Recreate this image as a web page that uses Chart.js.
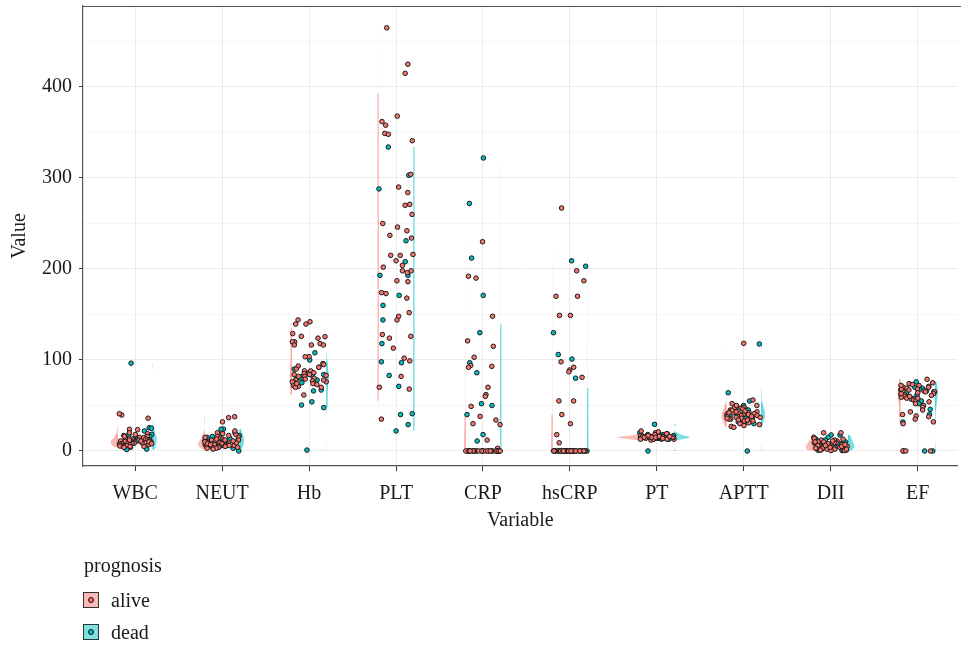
<!DOCTYPE html>
<html><head><meta charset="utf-8">
<script src="https://cdn.jsdelivr.net/npm/chart.js@4.4.1/dist/chart.umd.min.js"></script>
<style>
html,body{margin:0;padding:0;background:#fff;}
#wrap{position:relative;width:961px;height:646px;overflow:hidden;font-family:'Liberation Serif',serif;color:#1a1a1a;}
canvas{position:absolute;left:0;top:0;}
.lt{position:absolute;font-size:20px;line-height:24px;white-space:nowrap;}
.key{position:absolute;width:14px;height:14px;border:1px solid #333;}
.dot{position:absolute;left:4px;top:4px;width:4px;height:4px;border-radius:50%;border:1px solid #111;}
</style></head><body>
<div id="wrap">
<canvas id="c" width="961" height="646"></canvas>
<div class="lt" style="left:84px;top:553px;">prognosis</div>
<div class="key" style="left:83px;top:592px;background:#FBBAB6"><div class="dot" style="background:#F8766D"></div></div>
<div class="lt" style="left:111px;top:588px;">alive</div>
<div class="key" style="left:83px;top:624px;background:#80DFE1"><div class="dot" style="background:#00BFC4"></div></div>
<div class="lt" style="left:111px;top:620px;">dead</div>
</div>
<script>
const categories = ['WBC','NEUT','Hb','PLT','CRP','hsCRP','PT','APTT','DII','EF'];
const yTickValues = [0,100,200,300,400];
const groups = ['alive','dead'];

const alive_WBC = [36,39.5,41,23.4,23.8,20,19,17,16,15,14.5,14,13,13,12.5,12,12,11.5,11,11,10.5,10,10,9.5,9,9,8.5,8,8,7.5,7,7,6.5,6,6,5.5,5,5,4.5,4,12,10,8,16,18,9,11];
const dead_WBC  = [96.5,25.6,25,18.3,18,16,15,14,13,12,11,10,9,8,6,4,2,1.5,22];
const alive_NEUT = [32,36.6,37.7,20,18,16,15,14,13,12,12,11,11,10,10,9,9,8,8,8,7,7,7,6,6,6,5,5,5,4,4,3,3,12,10,9,15,17,6,8,11,13,19,4,7,2,22];
const dead_NEUT  = [24,24,18,16,14,13,12,11,10,9,8,7,6,5,0,20,17,15,3];
const alive_Hb = [144,142,139.5,139.5,129,126,125.6,124,120,118,120,116.5,116.5,116.5,103.6,103.6,96,93.4,92,88,86,85,84,83,82,80,79,78,77,76,75,74,73,72,71,70,70,78,76,74,61.5,88,86,84,82,90,95];
const dead_Hb  = [108,100,92,90,85,84,83,82,80,79,78,76,75,67,66,54,50.5,47.6,1];
const alive_PLT = [465,425,415,368,362,358,349,348,341,304,290,284,271,270,260,250,246,242,237,234,216,215,215,209,204,202,198,198,196,187,186,174,173,168,152,148,144,128,126,124,113,102,99,82,70,68,35];
const dead_PLT  = [334,303,288,231,208,193,193,171,160,144,118,98,97,83,71,41,40,29,22];
const alive_CRP = [230,192,190,148,121,115,103,94,93,92,70,62,60,49,38,34,30,29,12,3,0,0,0,0,0,0,0,0,0,0,0,0,0,0,0,0,0,0,0,0,0,0,0,0,0,0,0];
const dead_CRP  = [322,272,212,171,130,97,86,52,50,40,18,11,0,0,0,0,0,0,0];
const alive_hsCRP = [267,198,187,170,170,149,149,98,92,89,87,81,55,55,40,30,18,9,0,0,0,0,0,0,0,0,0,0,0,0,0,0,0,0,0,0,0,0,0,0,0,0,0,0,0,0,0];
const dead_hsCRP  = [209,203,130,106,101,80,0,0,0,0,0,0,0,0,0,0,0,0,0];
const alive_PT = [14,15,16,15,14,13,17,18,15,16,14,15,13,16,17,15,14,16,15,12,19,20,22,14,15,16,13,15,14,16,17,15,18,14,13,15,16,15,14,17,16,15,21,13,15,14,16];
const dead_PT  = [29.3,0,16,14,15,18,13,17,15,19,14,16,20,15,13,17,15,14,16];
const alive_APTT = [118.3,56,52,50,48,47,46,45,44,43,42,42,41,40,40,39,38,38,37,36,36,35,35,34,33,32,31,30,29,28,27,26,45,43,41,39,37,35,33,48,50,44,42,40,38,36,34];
const dead_APTT  = [117.6,64,0,55,50,46,44,42,40,38,36,34,32,30,45,41,39,37,48];
const alive_DII = [20,20,15,14,13,12,11,10,10,9,9,8,8,7,7,6,6,5,5,5,4,4,4,3,3,3,2,2,2,1,1,1,0.5,0.5,6,8,10,12,3,5,7,2,4,9,11,1,6];
const dead_DII  = [17.6,17.6,15,13,11,10,9,8,7,6,5,4,3,2,1,0.5,12,6,4];
const alive_EF = [78.8,75,74,73,72,71,70,70,69,68,67,66,65,65,64,63,62,62,61,60,59,58,57,56,55,54,52,50,48,45,43,40,38.5,37.7,35,32,30,66,68,60,63,58,0,0,0,0,72];
const dead_EF  = [76,70,69,68,66,65,63,62,60,58,55,52,45.8,40.3,31.9,0,0,64,67];

const aliveByVar = [alive_WBC,alive_NEUT,alive_Hb,alive_PLT,alive_CRP,alive_hsCRP,alive_PT,alive_APTT,alive_DII,alive_EF];
const deadByVar  = [dead_WBC,dead_NEUT,dead_Hb,dead_PLT,dead_CRP,dead_hsCRP,dead_PT,dead_APTT,dead_DII,dead_EF];

const COL = {alive:'#F8766D', dead:'#00BFC4'};
const VFILL = {alive:'rgba(248,118,109,0.5)', dead:'rgba(0,191,196,0.5)'};
const VLINE = {alive:'rgba(248,118,109,0.45)', dead:'rgba(0,191,196,0.45)'};
const FONT = "'Liberation Serif', 'Times New Roman', serif";

// seeded jitter (like geom_jitter, width 0.2)
function mulberry32(a){return function(){a|=0;a=a+0x6D2B79F5|0;let t=Math.imul(a^a>>>15,1|a);t=t+Math.imul(t^t>>>7,61|t)^t;return((t^t>>>14)>>>0)/4294967296;}}
const rnd = mulberry32(20240611);
const JW = 0.2;
function jittered(arrs){
  const out=[];
  arrs.forEach((arr,i)=>arr.forEach(v=>out.push({x:i+1+(rnd()*2-1)*JW, y:v})));
  return out;
}
const alivePts = jittered(aliveByVar);
const deadPts = jittered(deadByVar);

// KDE (bw.nrd0, gaussian) for half violins
function quant(s,p){const h=(s.length-1)*p;const lo=Math.floor(h);const hi=Math.ceil(h);return s[lo]+(h-lo)*(s[hi]-s[lo]);}
function bwNrd0(x){
  const n=x.length; const m=x.reduce((a,b)=>a+b,0)/n;
  const sd=Math.sqrt(x.reduce((a,b)=>a+(b-m)*(b-m),0)/(n-1));
  const s=[...x].sort((a,b)=>a-b);
  const iqr=quant(s,0.75)-quant(s,0.25);
  let lo=Math.min(sd,iqr/1.34); if(!lo) lo = sd || Math.abs(s[0]) || 1;
  return 0.9*lo*Math.pow(n,-0.2);
}
function kde(x){
  const bw=bwNrd0(x); const n=x.length;
  const mn=Math.min(...x), mx=Math.max(...x); const G=256;
  const ys=[], ds=[];
  for(let k=0;k<G;k++){
    const y=mn+(mx-mn)*k/(G-1); let s=0;
    for(const xi of x){const u=(y-xi)/bw; s+=Math.exp(-0.5*u*u);}
    ys.push(y); ds.push(s/(n*bw*Math.sqrt(2*Math.PI)));
  }
  return {ys,ds,mn,mx,peak:Math.max(...ds)};
}
const violins=[];
categories.forEach((c,i)=>{
  violins.push({i:i+1,g:'alive',dir:-1,k:kde(aliveByVar[i])});
  violins.push({i:i+1,g:'dead',dir:1,k:kde(deadByVar[i])});
});
const gmax=Math.max(...violins.map(v=>v.k.peak));
const VMAXW=0.26, VOFF=0.2, EDGE_T=0.3;

const violinPlugin={
  id:'violins',
  beforeDatasetsDraw(chart){
    const {ctx,chartArea:a,scales:{x,y}}=chart;
    ctx.save();
    ctx.beginPath(); ctx.rect(a.left,a.top,a.right-a.left,a.bottom-a.top); ctx.clip();
    violins.forEach(v=>{
      const flat=v.i+v.dir*VOFF;
      const fx=x.getPixelForValue(flat);
      ctx.beginPath();
      ctx.moveTo(fx,y.getPixelForValue(v.k.mn));
      ctx.lineTo(fx,y.getPixelForValue(v.k.mx));
      for(let k=v.k.ys.length-1;k>=0;k--){
        ctx.lineTo(x.getPixelForValue(flat+v.dir*VMAXW*v.k.ds[k]/gmax),y.getPixelForValue(v.k.ys[k]));
      }
      ctx.closePath();
      ctx.fillStyle=VFILL[v.g]; ctx.fill();
      // visible flat edge where the density is substantial
      ctx.strokeStyle=VLINE[v.g]; ctx.lineWidth=1.5;
      ctx.beginPath();
      let on=false;
      for(let k=0;k<v.k.ys.length;k++){
        const py=y.getPixelForValue(v.k.ys[k]);
        if(v.k.ds[k]>EDGE_T*v.k.peak){ if(!on){ctx.moveTo(fx+v.dir*0.5,py);on=true;} else ctx.lineTo(fx+v.dir*0.5,py); }
        else on=false;
      }
      ctx.stroke();
    });
    ctx.restore();
  },
  afterDraw(chart){
    const {ctx,chartArea:a}=chart;
    ctx.save(); ctx.strokeStyle='#555'; ctx.lineWidth=1.2;
    ctx.beginPath(); ctx.moveTo(a.left,a.top+0.5); ctx.lineTo(961,a.top+0.5); ctx.stroke();
    ctx.restore();
  }
};

new Chart(document.getElementById('c'),{
  type:'scatter',
  data:{datasets:[
    {label:'alive',data:alivePts,backgroundColor:COL.alive,borderColor:'#1a1a1a',borderWidth:1,pointRadius:2.3,pointHoverRadius:2.3},
    {label:'dead',data:deadPts,backgroundColor:COL.dead,borderColor:'#1a1a1a',borderWidth:1,pointRadius:2.3,pointHoverRadius:2.3}
  ]},
  plugins:[violinPlugin],
  options:{
    responsive:false, animation:false, devicePixelRatio:1,
    layout:{padding:{top:6,right:0,bottom:113,left:0}},
    plugins:{legend:{display:false},tooltip:{enabled:false}},
    scales:{
      x:{
        type:'linear', min:0.4, max:10.46,
        afterBuildTicks(s){ s.ticks = categories.map((c,i)=>({value:i+1})); },
        afterFit(s){ s.height=67; s.paddingLeft=0; s.paddingRight=0; },
        ticks:{callback:(v)=>categories[Math.round(v)-1], color:'#1a1a1a', font:{family:FONT,size:20}, padding:11, maxRotation:0, autoSkip:false},
        grid:{color:'#EBEBEB', lineWidth:1, tickLength:5, tickColor:'#333', tickWidth:1},
        border:{display:true,color:'#555',width:1.2},
        title:{display:true,text:'Variable',color:'#1a1a1a',font:{family:FONT,size:20},padding:{top:2,bottom:0}}
      },
      y:{
        type:'linear', min:-16.5, max:489,
        afterBuildTicks(s){ s.ticks=[0,50,100,150,200,250,300,350,400,450].map(v=>({value:v})); },
        afterFit(s){ s.width=83; s.paddingTop=0; s.paddingBottom=0; },
        ticks:{callback:(v)=> yTickValues.includes(v)? String(v):'', color:'#1a1a1a', font:{family:FONT,size:20}, padding:7},
        grid:{
          color:(c)=> (c.tick && c.tick.value%100===0)?'#EBEBEB':'#F5F5F5',
          lineWidth:1, tickLength:4,
          tickColor:(c)=> (c.tick && c.tick.value%100===0)?'#333':'rgba(0,0,0,0)'
        },
        border:{display:true,color:'#555',width:1.2},
        title:{display:true,text:'Value',color:'#1a1a1a',font:{family:FONT,size:20},padding:{top:8,bottom:0}}
      }
    }
  }
});
</script>
</body></html>
